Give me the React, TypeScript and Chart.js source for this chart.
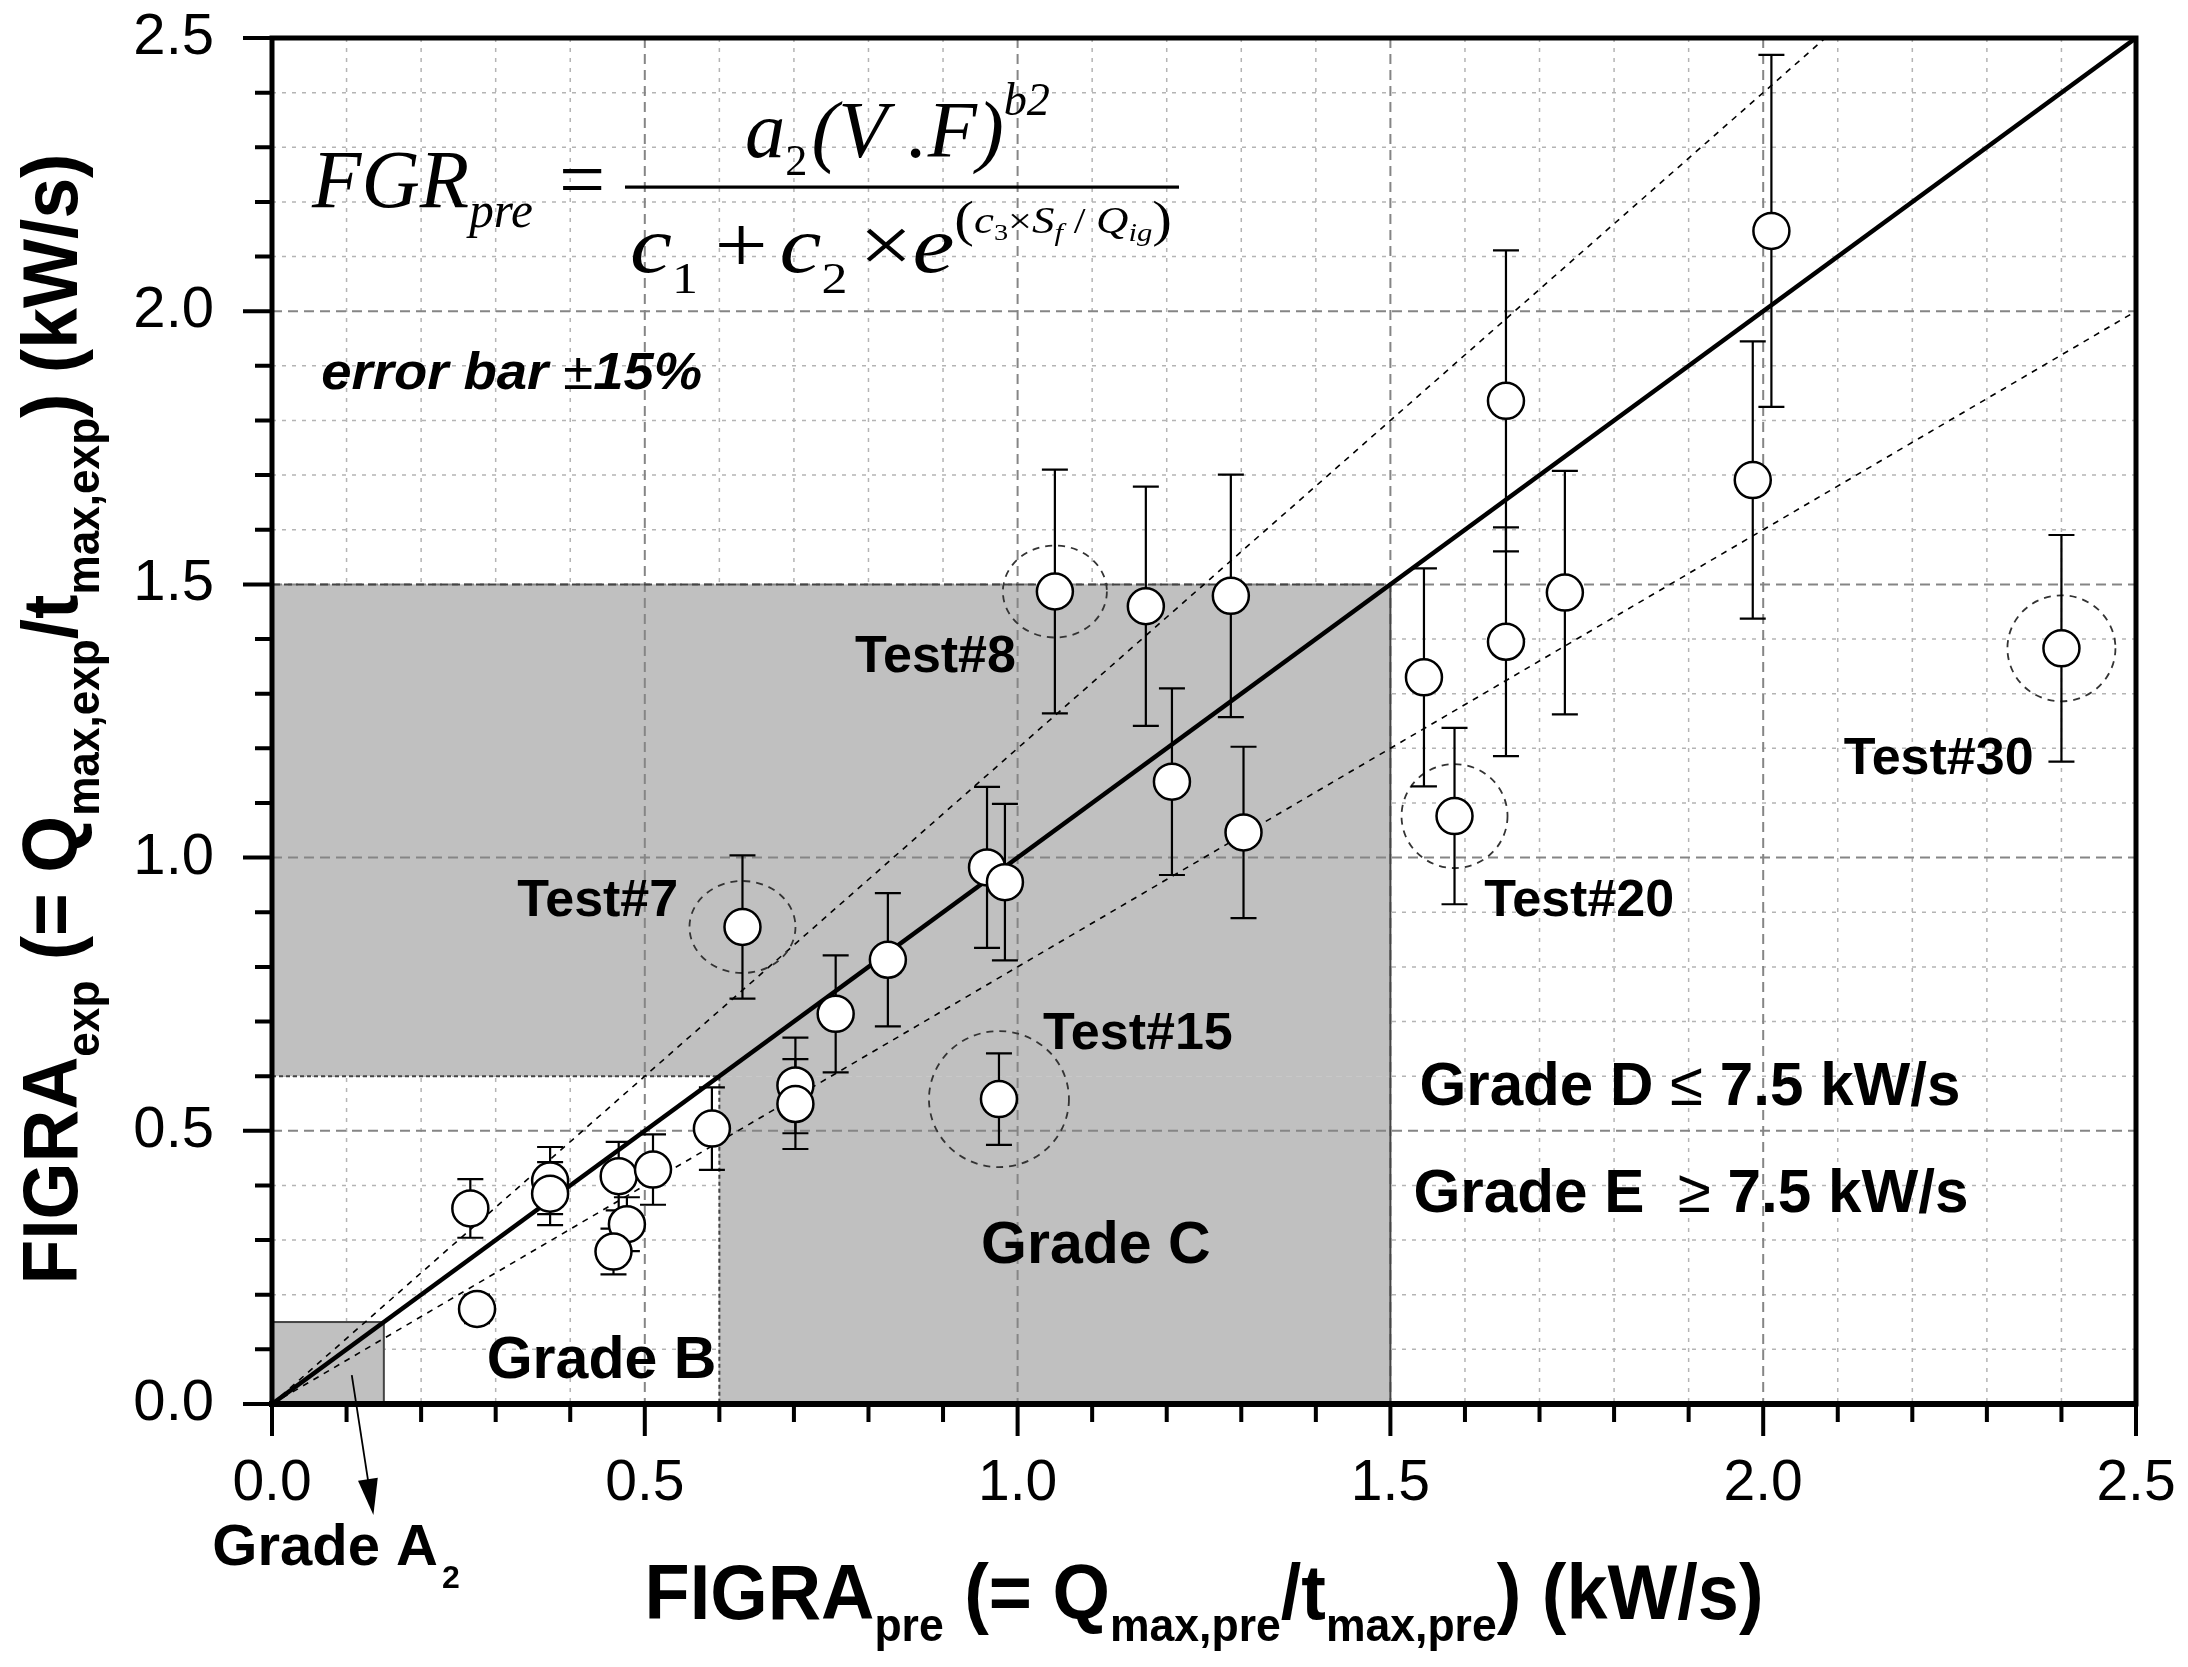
import React, { useEffect, useRef } from 'react';
import { Chart, registerables } from 'chart.js';

Chart.register(...registerables);

// ---------------- data ----------------
const figraPre = [
  0.266, 0.275, 0.373, 0.373, 0.465, 0.476, 0.458, 0.511, 0.590, 0.631,
  0.702, 0.702, 0.756, 0.826, 0.959, 0.983, 0.975, 1.050, 1.172, 1.286,
  1.207, 1.303, 1.545, 1.586, 1.655, 1.655, 1.734, 1.986, 2.011, 2.400,
];
const figraExp = [
  0.358, 0.174, 0.409, 0.385, 0.417, 0.329, 0.279, 0.429, 0.504, 0.873,
  0.583, 0.549, 0.714, 0.813, 0.982, 0.955, 0.558, 1.487, 1.460, 1.479,
  1.139, 1.046, 1.330, 1.076, 1.395, 1.836, 1.485, 1.691, 2.147, 1.383,
];
const errorFraction = 0.15; // "error bar ±15%"

const guideSlopes = [1.0, 1.2, 0.8]; // y = x and ±20 % lines
const axisMin = 0;
const axisMax = 2.5;
const majorStep = 0.5;
const minorStep = 0.1;
const tickLabels = ['0.0', '0.5', '1.0', '1.5', '2.0', '2.5'];

// grading limits (kW/s)
const gradeA2Limit = 0.15;
const gradeBLimit = 0.6;
const gradeCLimit = 1.5;

// highlighted tests (index into the arrays above)
const highlightTests = ['Test#7', 'Test#8', 'Test#15', 'Test#20', 'Test#30'];
const highlightIndex = [9, 17, 16, 23, 29];

// ---------------- styles ----------------
const highlightRx = [53, 52, 70, 53, 54];
const highlightRy = [46, 46, 68, 52, 53];
const labelPos = [
  { x: 0.329, y: 0.893 },
  { x: 0.782, y: 1.340 },
  { x: 1.034, y: 0.650 },
  { x: 1.626, y: 0.893 },
  { x: 2.108, y: 1.153 },
];

const SANS = '"Liberation Sans", Arial, Helvetica, sans-serif';
const SERIF = '"Liberation Serif", "Times New Roman", Times, serif';

type Run = { t: string; size: number; weight?: string; style?: string; family?: string; dy?: number; dx?: number };

function fontOf(r: Run, fam: string) {
  return `${r.style || 'normal'} ${r.weight || 'normal'} ${r.size}px ${r.family || fam}`;
}

function drawRuns(
  ctx: CanvasRenderingContext2D,
  runs: Run[],
  x: number,
  y: number,
  opts: { family: string; align?: 'left' | 'center'; width?: number },
) {
  let natural = 0;
  const widths = runs.map((r) => {
    ctx.font = fontOf(r, opts.family);
    const w = ctx.measureText(r.t).width + (r.dx || 0);
    natural += w;
    return w;
  });
  const sx = opts.width ? opts.width / natural : 1;
  const total = natural * sx;
  const x0 = opts.align === 'center' ? x - total / 2 : x;
  ctx.save();
  ctx.translate(x0, y);
  ctx.scale(sx, 1);
  ctx.textBaseline = 'alphabetic';
  ctx.textAlign = 'left';
  ctx.fillStyle = '#000';
  let cx = 0;
  runs.forEach((r, i) => {
    ctx.font = fontOf(r, opts.family);
    ctx.fillText(r.t, cx + (r.dx || 0), r.dy || 0);
    cx += widths[i];
  });
  ctx.restore();
}

function stepsBetween(min: number, max: number, step: number) {
  const out: number[] = [];
  const n = Math.round((max - min) / step);
  for (let i = 0; i <= n; i++) out.push(+(min + i * step).toFixed(6));
  return out;
}

function isMajor(v: number) {
  return Math.abs(v / majorStep - Math.round(v / majorStep)) < 1e-6;
}

const decorPlugin = {
  id: 'decor',
  beforeDatasetsDraw(chart: any) {
    const { ctx, chartArea: ca, scales } = chart;
    const X = (v: number) => scales.x.getPixelForValue(v);
    const Y = (v: number) => scales.y.getPixelForValue(v);
    const ticks = stepsBetween(axisMin, axisMax, minorStep);
    ctx.save();
    ctx.beginPath();
    ctx.rect(ca.left, ca.top, ca.width, ca.height);
    ctx.clip();

    // minor grid
    ctx.strokeStyle = '#b4b4b4';
    ctx.lineWidth = 1.5;
    ctx.setLineDash([4, 6]);
    ticks.forEach((v) => {
      if (isMajor(v)) return;
      ctx.beginPath();
      ctx.moveTo(X(v), ca.top);
      ctx.lineTo(X(v), ca.bottom);
      ctx.moveTo(ca.left, Y(v));
      ctx.lineTo(ca.right, Y(v));
      ctx.stroke();
    });

    // grade areas
    ctx.fillStyle = '#c0c0c0';
    ctx.fillRect(X(0), Y(gradeCLimit), X(gradeCLimit) - X(0), Y(gradeBLimit) - Y(gradeCLimit));
    ctx.fillRect(X(gradeBLimit), Y(gradeBLimit), X(gradeCLimit) - X(gradeBLimit), Y(0) - Y(gradeBLimit));
    ctx.fillRect(X(0), Y(gradeA2Limit), X(gradeA2Limit) - X(0), Y(0) - Y(gradeA2Limit));

    // major grid
    ctx.strokeStyle = '#858585';
    ctx.lineWidth = 2;
    ctx.setLineDash([10, 6]);
    ticks.forEach((v) => {
      if (!isMajor(v)) return;
      ctx.beginPath();
      ctx.moveTo(X(v), ca.top);
      ctx.lineTo(X(v), ca.bottom);
      ctx.moveTo(ca.left, Y(v));
      ctx.lineTo(ca.right, Y(v));
      ctx.stroke();
    });

    // grade borders
    ctx.strokeStyle = '#444';
    ctx.lineWidth = 2;
    ctx.setLineDash([8, 4]);
    ctx.beginPath();
    ctx.moveTo(X(0), Y(gradeCLimit));
    ctx.lineTo(X(gradeCLimit), Y(gradeCLimit));
    ctx.stroke();
    ctx.setLineDash([]);
    ctx.beginPath();
    ctx.moveTo(X(gradeCLimit), Y(gradeCLimit));
    ctx.lineTo(X(gradeCLimit), Y(0));
    ctx.stroke();
    ctx.setLineDash([4, 3]);
    ctx.beginPath();
    ctx.moveTo(X(0), Y(gradeBLimit));
    ctx.lineTo(X(gradeBLimit), Y(gradeBLimit));
    ctx.lineTo(X(gradeBLimit), Y(0));
    ctx.stroke();
    ctx.setLineDash([]);
    ctx.strokeRect(X(0), Y(gradeA2Limit), X(gradeA2Limit) - X(0), Y(0) - Y(gradeA2Limit));
    ctx.restore();
  },
  beforeDatasetDraw(chart: any, args: any) {
    if (args.index !== 0) return;
    const { ctx, scales } = chart;
    const X = (v: number) => scales.x.getPixelForValue(v);
    const Y = (v: number) => scales.y.getPixelForValue(v);
    ctx.save();
    // dashed highlight circles
    ctx.strokeStyle = '#333';
    ctx.lineWidth = 1.8;
    ctx.setLineDash([7, 6]);
    highlightIndex.forEach((idx, k) => {
      ctx.beginPath();
      ctx.ellipse(X(figraPre[idx]), Y(figraExp[idx]), highlightRx[k], highlightRy[k], 0, 0, Math.PI * 2);
      ctx.stroke();
    });
    // error bars
    ctx.setLineDash([]);
    ctx.strokeStyle = '#000';
    ctx.lineWidth = 2.2;
    const cap = 13;
    figraPre.forEach((xv, i) => {
      const yv = figraExp[i];
      const px = X(xv);
      const top = Y(yv * (1 + errorFraction));
      const bot = Y(yv * (1 - errorFraction));
      ctx.beginPath();
      ctx.moveTo(px, top);
      ctx.lineTo(px, bot);
      ctx.moveTo(px - cap, top);
      ctx.lineTo(px + cap, top);
      ctx.moveTo(px - cap, bot);
      ctx.lineTo(px + cap, bot);
      ctx.stroke();
    });
    ctx.restore();
  },
  afterDatasetsDraw(chart: any) {
    const { ctx, chartArea: ca, scales } = chart;
    const X = (v: number) => scales.x.getPixelForValue(v);
    const Y = (v: number) => scales.y.getPixelForValue(v);
    ctx.save();
    ctx.setLineDash([]);
    // frame
    ctx.strokeStyle = '#000';
    ctx.lineWidth = 5;
    ctx.strokeRect(ca.left, ca.top, ca.width, ca.height);
    ctx.lineWidth = 6;
    ctx.beginPath();
    ctx.moveTo(ca.left - 3, ca.bottom);
    ctx.lineTo(ca.right + 2, ca.bottom);
    ctx.stroke();
    // tick marks
    ctx.lineWidth = 4;
    stepsBetween(axisMin, axisMax, minorStep).forEach((v) => {
      const major = isMajor(v);
      ctx.beginPath();
      ctx.moveTo(X(v), ca.bottom);
      ctx.lineTo(X(v), ca.bottom + (major ? 32 : 18));
      ctx.moveTo(ca.left, Y(v));
      ctx.lineTo(ca.left - (major ? 29 : 17), Y(v));
      ctx.stroke();
    });

    // highlighted test labels
    highlightTests.forEach((t, k) => {
      drawRuns(ctx, [{ t, size: 52, weight: 'bold' }], X(labelPos[k].x), Y(labelPos[k].y), { family: SANS });
    });

    // grade labels
    drawRuns(ctx, [{ t: 'Grade C', size: 59, weight: 'bold' }], X(0.951), Y(0.258), { family: SANS });
    drawRuns(ctx, [{ t: 'Grade B', size: 59, weight: 'bold' }], X(0.288), Y(0.048), { family: SANS });
    drawRuns(
      ctx,
      [
        { t: 'Grade D ', size: 61, weight: 'bold' },
        { t: '\u2264', size: 61 },
        { t: ' 7.5 kW/s', size: 61, weight: 'bold' },
      ],
      X(1.539), Y(0.548), { family: SANS, width: 541 },
    );
    drawRuns(
      ctx,
      [
        { t: 'Grade E  ', size: 61, weight: 'bold' },
        { t: '\u2265', size: 61 },
        { t: ' 7.5 kW/s', size: 61, weight: 'bold' },
      ],
      X(1.531), Y(0.352), { family: SANS, width: 555 },
    );
    drawRuns(
      ctx,
      [
        { t: 'error bar ', size: 52, weight: 'bold', style: 'italic' },
        { t: '\u00B1', size: 52 },
        { t: '15%', size: 52, weight: 'bold', style: 'italic' },
      ],
      X(0.066), Y(1.858), { family: SANS, width: 381 },
    );

    // Grade A2 with arrow
    drawRuns(
      ctx,
      [
        { t: 'Grade A', size: 58, weight: 'bold' },
        { t: '2', size: 32, weight: 'bold', dy: 23, dx: 4 },
      ],
      X(-0.080), Y(-0.295), { family: SANS },
    );
    const ax0 = X(0.107), ay0 = Y(0.053), ax1 = X(0.136), ay1 = Y(-0.203);
    const ang = Math.atan2(ay1 - ay0, ax1 - ax0);
    ctx.strokeStyle = '#000';
    ctx.lineWidth = 1.8;
    ctx.beginPath();
    ctx.moveTo(ax0, ay0);
    ctx.lineTo(ax1 - 30 * Math.cos(ang), ay1 - 30 * Math.sin(ang));
    ctx.stroke();
    ctx.fillStyle = '#000';
    ctx.beginPath();
    ctx.moveTo(ax1, ay1);
    ctx.lineTo(ax1 - 36 * Math.cos(ang) + 10 * Math.sin(ang), ay1 - 36 * Math.sin(ang) - 10 * Math.cos(ang));
    ctx.lineTo(ax1 - 36 * Math.cos(ang) - 10 * Math.sin(ang), ay1 - 36 * Math.sin(ang) + 10 * Math.cos(ang));
    ctx.closePath();
    ctx.fill();

    // formula
    drawRuns(
      ctx,
      [
        { t: 'FGR', size: 82, style: 'italic' },
        { t: 'pre', size: 50, style: 'italic', dy: 20 },
      ],
      312, 207, { family: SERIF, width: 221 },
    );
    drawRuns(ctx, [{ t: '=', size: 82 }], 559, 207, { family: SERIF });
    ctx.fillStyle = '#000';
    ctx.fillRect(625, 185.5, 554, 3.2);
    drawRuns(
      ctx,
      [
        { t: 'a', size: 80, style: 'italic' },
        { t: '2', size: 44, dy: 18 },
        { t: '(V .F)', size: 80, style: 'italic', dx: 4 },
        { t: 'b2', size: 46, style: 'italic', dy: -42 },
      ],
      745, 157, { family: SERIF, width: 305 },
    );
    drawRuns(
      ctx,
      [
        { t: 'c', size: 80, style: 'italic' },
        { t: '1', size: 44, dy: 21 },
        { t: '+', size: 80, dx: 14 },
        { t: 'c', size: 80, style: 'italic', dx: 10 },
        { t: '2', size: 44, dy: 21 },
        { t: '\u00D7', size: 80, dx: 10 },
        { t: 'e', size: 80, style: 'italic' },
        { t: '(', size: 50, dy: -36 },
        { t: 'c', size: 38, style: 'italic', dy: -39 },
        { t: '3', size: 24, dy: -32 },
        { t: '\u00D7', size: 36, dy: -39 },
        { t: 'S', size: 38, style: 'italic', dy: -39 },
        { t: 'f', size: 26, style: 'italic', dy: -31 },
        { t: ' / ', size: 36, dy: -39 },
        { t: 'Q', size: 38, style: 'italic', dy: -39 },
        { t: 'ig', size: 26, style: 'italic', dy: -31 },
        { t: ')', size: 50, dy: -36 },
      ],
      630, 272, { family: SERIF, width: 542 },
    );

    // axis titles
    const titleSize = 78;
    const subSize = 47;
    drawRuns(
      ctx,
      [
        { t: 'FIGRA', size: titleSize, weight: 'bold' },
        { t: 'pre', size: subSize, weight: 'bold', dy: 22 },
        { t: ' (= Q', size: titleSize, weight: 'bold' },
        { t: 'max,pre', size: subSize, weight: 'bold', dy: 22 },
        { t: '/t', size: titleSize, weight: 'bold' },
        { t: 'max,pre', size: subSize, weight: 'bold', dy: 22 },
        { t: ') (kW/s)', size: titleSize, weight: 'bold' },
      ],
      (ca.left + ca.right) / 2, 1619, { family: SANS, align: 'center', width: 1119 },
    );
    ctx.save();
    ctx.translate(77, (ca.top + ca.bottom) / 2 - 2);
    ctx.rotate(-Math.PI / 2);
    drawRuns(
      ctx,
      [
        { t: 'FIGRA', size: titleSize, weight: 'bold' },
        { t: 'exp', size: subSize, weight: 'bold', dy: 22 },
        { t: ' (= Q', size: titleSize, weight: 'bold' },
        { t: 'max,exp', size: subSize, weight: 'bold', dy: 22 },
        { t: '/t', size: titleSize, weight: 'bold' },
        { t: 'max,exp', size: subSize, weight: 'bold', dy: 22 },
        { t: ') (kW/s)', size: titleSize, weight: 'bold' },
      ],
      0, 0, { family: SANS, align: 'center', width: 1131 },
    );
    ctx.restore();
    ctx.restore();
  },
};

function zeroPadding(s: any) {
  s.paddingLeft = 0;
  s.paddingRight = 0;
  s.paddingTop = 0;
  s.paddingBottom = 0;
}

export default function App() {
  const canvasRef = useRef<HTMLCanvasElement | null>(null);

  useEffect(() => {
    if (!canvasRef.current) return;
    const points = figraPre.map((x, i) => ({ x, y: figraExp[i] }));
    const guide = (s: number) => [
      { x: axisMin, y: axisMin * s },
      { x: axisMax, y: axisMax * s },
    ];
    const labelFor = (v: number) => {
      const i = Math.round(v / majorStep);
      return Math.abs(v / majorStep - i) < 1e-6 ? tickLabels[i] ?? '' : '';
    };
    const chart = new Chart(canvasRef.current, {
      type: 'scatter',
      data: {
        datasets: [
          {
            label: 'FIGRA',
            data: points,
            order: 0,
            pointRadius: 18,
            pointHoverRadius: 18,
            pointBackgroundColor: '#ffffff',
            pointBorderColor: '#000000',
            pointBorderWidth: 2.5,
            showLine: false,
          } as any,
          {
            label: 'y = x',
            data: guide(guideSlopes[0]),
            order: 1,
            showLine: true,
            pointRadius: 0,
            borderColor: '#000',
            borderWidth: 4.5,
          } as any,
          {
            label: '+20%',
            data: guide(guideSlopes[1]),
            order: 2,
            showLine: true,
            pointRadius: 0,
            borderColor: '#000',
            borderWidth: 1.6,
            borderDash: [6, 6],
          } as any,
          {
            label: '-20%',
            data: guide(guideSlopes[2]),
            order: 3,
            showLine: true,
            pointRadius: 0,
            borderColor: '#000',
            borderWidth: 1.6,
            borderDash: [6, 6],
          } as any,
        ],
      },
      options: {
        animation: false,
        responsive: false,
        devicePixelRatio: 1,
        events: [],
        layout: { padding: { left: 0, right: 52, top: 38, bottom: 0 } },
        plugins: { legend: { display: false }, tooltip: { enabled: false } },
        scales: {
          x: {
            type: 'linear',
            min: axisMin,
            max: axisMax,
            grid: { display: false },
            border: { display: false },
            ticks: {
              stepSize: majorStep,
              autoSkip: false,
              maxRotation: 0,
              padding: 44,
              color: '#000',
              font: { family: SANS, size: 57, lineHeight: 1 },
              callback: (v: any) => labelFor(Number(v)),
            },
            afterFit: (s: any) => {
              s.height = 263;
              zeroPadding(s);
            },
          },
          y: {
            type: 'linear',
            min: axisMin,
            max: axisMax,
            grid: { display: false },
            border: { display: false },
            ticks: {
              stepSize: majorStep,
              autoSkip: false,
              padding: 50,
              color: '#000',
              font: { family: SANS, size: 58, lineHeight: 1 },
              callback: (v: any) => labelFor(Number(v)),
            },
            afterFit: (s: any) => {
              s.width = 272;
              zeroPadding(s);
            },
          },
        },
      } as any,
      plugins: [decorPlugin as any],
    });
    return () => chart.destroy();
  }, []);

  return (
    <div style={{ position: 'absolute', left: 0, top: 0, width: 2188, height: 1667, background: '#fff' }}>
      <canvas ref={canvasRef} width={2188} height={1667} style={{ display: 'block' }} />
    </div>
  );
}
